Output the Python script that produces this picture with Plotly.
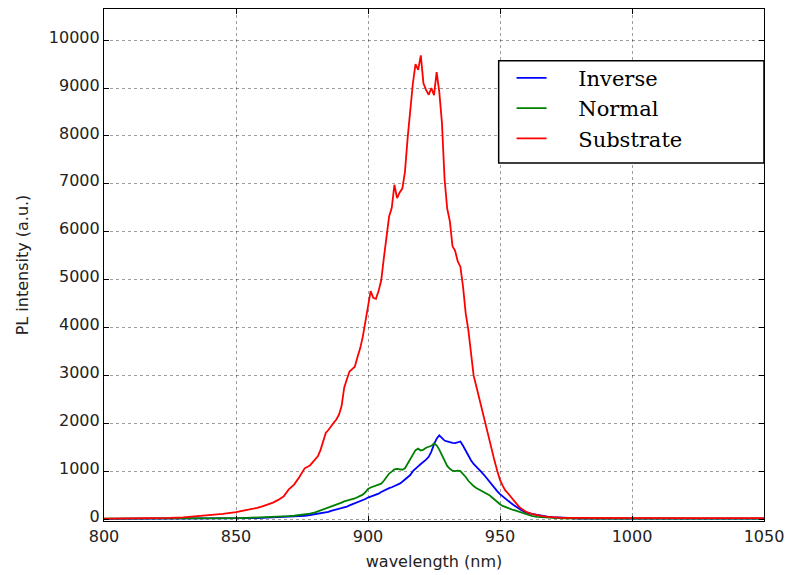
import plotly.graph_objects as go

# Wavelength grid (nm): coarse in the tails, 1 nm across the emission band
wavelength = (list(range(800, 850, 5)) + list(range(850, 880, 2)) +
              list(range(880, 961, 1)) + list(range(962, 981, 2)) +
              list(range(985, 1051, 5)))

inverse = [
    5, 5, 5, 5, 5, 5, 6, 6, 8, 10,
    12, 14, 16, 18, 20, 24, 28, 32, 36, 40, 45, 52, 60, 70, 85,
    100, 110, 120, 130, 140, 150, 170, 185, 195, 205,
    215, 235, 260, 285, 305, 335, 355, 375, 395, 420,
    450, 470, 485, 500, 530, 565, 595, 620, 645, 665,
    690, 710, 740, 780, 830, 870, 920, 1000, 1060, 1100,
    1150, 1190, 1240, 1300, 1410, 1560, 1680, 1750, 1700, 1640,
    1620, 1600, 1590, 1585, 1600, 1620, 1530, 1420, 1330, 1230,
    1150, 1100, 1040, 980, 920, 850, 780, 700, 630, 580,
    520, 470, 430, 380, 340, 300, 260, 220, 190, 160,
    135,
    110, 85, 65, 50, 38, 30, 24, 19, 15, 12,
    10, 9, 8, 8, 8, 8, 8, 8, 8, 8, 8, 8, 8, 8,
]

normal = [
    8, 8, 8, 8, 8, 8, 8, 10, 12, 15,
    20, 22, 25, 28, 32, 36, 40, 45, 50, 56, 62, 70, 80, 95, 115,
    140, 160, 180, 200, 220, 245, 255, 270, 290, 320,
    345, 370, 390, 405, 415, 430, 455, 480, 510, 560,
    630, 660, 680, 700, 720, 740, 800, 880, 950, 990,
    1040, 1050, 1040, 1030, 1060, 1150, 1250, 1350, 1440, 1470,
    1430, 1450, 1490, 1510, 1530, 1580, 1540, 1450, 1330, 1200,
    1110, 1050, 1010, 1000, 1010, 1000, 950, 880, 800, 740,
    690, 650, 620, 600, 570, 540, 500, 450, 400, 350,
    310, 275, 250, 230, 210, 190, 175, 155, 130, 110,
    90,
    65, 48, 38, 30, 24, 20, 16, 13, 11, 10,
    9, 8, 8, 8, 8, 8, 8, 8, 8, 8, 8, 8, 8, 8,
]

substrate = [
    10, 10, 12, 15, 18, 25, 35, 55, 80, 110,
    145, 165, 185, 210, 235, 265, 300, 345, 400, 470, 620, 720, 880, 1060, 1120,
    1250, 1310, 1440, 1620, 1800, 1860, 1950, 2010, 2080, 2180,
    2360, 2750, 2920, 3080, 3130, 3180, 3380, 3560, 3800, 4100,
    4450, 4760, 4620, 4600, 4760, 4980, 5450, 5850, 6320, 6500,
    6980, 6700, 6820, 6900, 7250, 7950, 8550, 9100, 9500, 9380,
    9680, 9100, 8960, 8860, 9000, 8850, 9330, 8920, 8280, 7100,
    6480, 6220, 5700, 5600, 5380, 5270, 4850, 4300, 3950, 3450,
    3000, 2780, 2550, 2300, 2060, 1850, 1650, 1420, 1200, 1000,
    820, 700, 600, 540, 470, 400, 330, 270, 220, 180,
    150,
    110, 80, 60, 45, 35, 30, 27, 25, 24, 22,
    22, 21, 20, 20, 19, 19, 18, 18, 18, 18, 18, 18, 18, 18,
]

series_names = ["Inverse", "Normal", "Substrate"]
series_colors = ["#0000ff", "#008000", "#ff0000"]
x_ticks = [800, 850, 900, 950, 1000, 1050]
y_ticks = list(range(0, 10001, 1000))

pad = "\u00a0" * 4
fig = go.Figure()
for name, values, color in zip(series_names, [inverse, normal, substrate], series_colors):
    fig.add_trace(go.Scatter(
        x=wavelength, y=values, mode="lines", name=pad + name,
        line=dict(color=color, width=1.8),
    ))

axis_common = dict(
    showline=True, linecolor="black", linewidth=1.2, mirror="ticks",
    ticks="inside", ticklen=5, tickwidth=1.2, tickcolor="black",
    showgrid=True, gridcolor="rgba(0,0,0,0.38)", gridwidth=1, griddash="dot",
    zeroline=False,
    tickfont=dict(family="DejaVu Sans", size=16, color="#222"),
)

fig.update_xaxes(
    range=[800, 1050], tickvals=x_ticks, tickformat="d", ticklabelstandoff=1,
    title=dict(text="wavelength (nm)", standoff=10,
               font=dict(family="DejaVu Sans", size=16, color="#222")),
    **axis_common,
)
fig.update_yaxes(
    range=[-40, 10650], tickvals=y_ticks, tickformat="d", ticklabelshift=-3,
    title=dict(text="PL intensity (a.u.)", standoff=16,
               font=dict(family="DejaVu Sans", size=16, color="#222")),
    **axis_common,
)

# Legend frame
fig.add_shape(
    type="rect", xref="paper", yref="paper",
    x0=0.598, x1=1.0, y0=0.699, y1=0.899,
    fillcolor="white", line=dict(color="black", width=1.5), layer="above",
)

fig.update_layout(
    width=792, height=575,
    margin=dict(l=104, r=23, t=8, b=52),
    plot_bgcolor="white", paper_bgcolor="white",
    showlegend=True,
    legend=dict(
        x=0.6175, y=0.905, xanchor="left", yanchor="top",
        bgcolor="rgba(0,0,0,0)", borderwidth=0,
        font=dict(family="DejaVu Serif", size=21, color="black"),
        itemwidth=30,
    ),
)

fig.write_html("out.html")
